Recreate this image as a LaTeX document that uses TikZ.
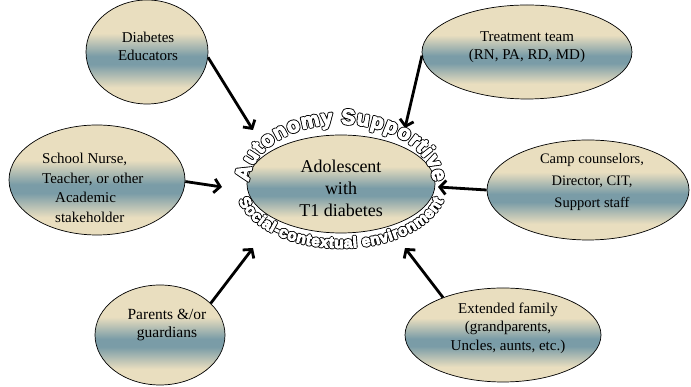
\documentclass[tikz,border=0pt]{standalone}
\usepackage{fontspec}
\setmainfont{Liberation Serif}
\newfontfamily\arcfamily{Liberation Sans}
\usetikzlibrary{shapes.geometric,arrows.meta,decorations.text}
\definecolor{beige}{RGB}{233,222,191}
\definecolor{bluegr}{RGB}{122,156,167}
\pgfdeclareverticalshading{band}{100bp}{color(0bp)=(beige); color(33bp)=(beige); color(44bp)=(bluegr); color(48bp)=(bluegr); color(59bp)=(beige); color(100bp)=(beige)}
\newcommand\outerpass{\color{black}\special{pdf:literal direct 2 Tr 2.8 w 1 j 0 G}}
\newcommand\innerpass{\color{white}\special{pdf:literal direct 2 Tr 1.0 w 1 j 1 G}}
\newcommand\topsize{\arcfamily\bfseries\fontsize{21}{23}\selectfont}
\newcommand\botsize{\arcfamily\bfseries\fontsize{15.5}{17}\selectfont}
\newcommand\toparcA{\topsize\outerpass}
\newcommand\toparcB{\topsize\innerpass}
\newcommand\botarcA{\botsize\outerpass}
\newcommand\botarcB{\botsize\innerpass}
\tikzset{
  bub/.style={ellipse, draw=black, line width=0.7pt, shade, shading=band, inner sep=0pt},
  lbl/.style={align=center, inner sep=0pt, font=\fontsize{15}{18}\selectfont},
  arr/.style={line width=2.8pt, -{Straight Barb[length=6pt,width=14pt]}}
}
\begin{document}
\begin{tikzpicture}[x=1pt,y=1pt]
\useasboundingbox (0,0) rectangle (691,387);
\fill[white] (0,0) rectangle (691,387);
% ellipses
\node[bub, minimum width=122pt, minimum height=104pt] (de) at (147,335) {};
\node[bub, minimum width=210pt, minimum height=94pt] (tt) at (527,335) {};
\node[bub, minimum width=176pt, minimum height=110pt] (sn) at (97,207) {};
\node[bub, minimum width=202pt, minimum height=100pt] (cc) at (588,197) {};
\node[bub, minimum width=130pt, minimum height=100pt] (pg) at (160,52) {};
\node[bub, minimum width=196pt, minimum height=94pt] (ef) at (503,52) {};
\node[bub, minimum width=188pt, minimum height=98pt] (ad) at (341,203) {};
% texts
\node[lbl] (tde) at (148,341) {Diabetes\\Educators};
\node[lbl] (ttt) at (527,340) {Treatment team\\(RN, PA, RD, MD)};
\node[lbl, align=left, anchor=west, font=\fontsize{15}{19.5}\selectfont] (tsn) at (42,199)
  {School Nurse,\\Teacher, or other\\\hspace*{13pt}Academic\\\hspace*{13pt}stakeholder};
\node[lbl, font=\fontsize{14.5}{22}\selectfont] (tcc) at (592,205) {Camp counselors,\\Director, CIT,\\Support staff};
\node[lbl, font=\fontsize{15.5}{18}\selectfont] (tpg) at (167,62) {Parents \&/or\\guardians};
\node[lbl, font=\fontsize{15}{18.5}\selectfont] (tef) at (508,59) {Extended family\\(grandparents,\\Uncles, aunts, etc.)};
\node[lbl, font=\fontsize{18}{22}\selectfont] (tad) at (341,199) {Adolescent\\with\\T1 diabetes};
% arrow tips
\coordinate (dtip) at (253,257);
\coordinate (ttip) at (405,259);
\coordinate (stip) at (222,200);
\coordinate (ctip) at (438,200);
\coordinate (ptip) at (253,139);
\coordinate (etip) at (405,139);
\draw[arr] (de.-5) -- (dtip);
\draw[arr] (tt.182) -- (ttip);
\draw[arr] (sn.-1) -- (stip);
\draw[arr] (cc.180) -- (ctip);
\draw[arr] (pg.32) -- (ptip);
\draw[arr] (ef.148) -- (etip);
% arc texts: black outer pass, then white inner pass
\path[decorate, decoration={text along path, text={|\botarcA|Social-contextual environment}, text align={fit to path}}]
  (341,203) ++(195:106pt and 64pt) arc[start angle=195, end angle=345, x radius=106pt, y radius=64pt];
\path[decorate, decoration={text along path, text={|\botarcB|Social-contextual environment}, text align={fit to path}}]
  (341,203) ++(195:106pt and 64pt) arc[start angle=195, end angle=345, x radius=106pt, y radius=64pt];
\path[decorate, decoration={text along path, text={|\toparcA|Autonomy Supportive}, text align={fit to path}}]
  (341,203) ++(178:92pt and 60pt) arc[start angle=178, end angle=2, x radius=92pt, y radius=60pt];
\path[decorate, decoration={text along path, text={|\toparcB|Autonomy Supportive}, text align={fit to path}}]
  (341,203) ++(178:92pt and 60pt) arc[start angle=178, end angle=2, x radius=92pt, y radius=60pt];
\end{tikzpicture}
\end{document}
